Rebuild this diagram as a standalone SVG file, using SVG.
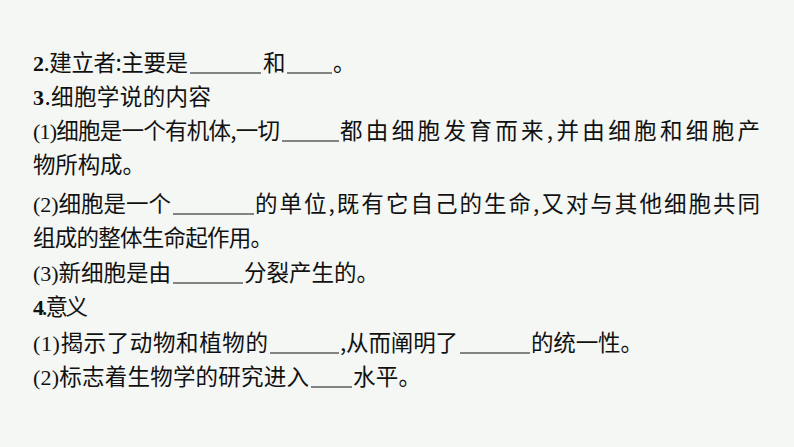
<svg xmlns="http://www.w3.org/2000/svg" width="794" height="447" viewBox="0 0 794 447">
<style>
text{font-family:"Noto Sans CJK SC","Liberation Serif",serif;font-size:22.5px;fill:#111}
.b{font-family:"Liberation Serif",serif;font-weight:bold;font-size:22px}
.n{font-family:"Liberation Serif",serif;font-size:22px}
line{stroke:#111;stroke-width:1.2}
</style>
<rect width="794" height="447" fill="#f4f7f4"/>
<g id="text">
<text x="33" y="71" textLength="155" lengthAdjust="spacing"><tspan class="b">2</tspan>.建立者:主要是</text>
<text x="263" y="71">和</text>
<text x="333" y="71">。</text>
<text x="33" y="105" textLength="178" lengthAdjust="spacing"><tspan class="b">3</tspan>.细胞学说的内容</text>
<text x="33" y="139" textLength="247" lengthAdjust="spacing"><tspan class="n">(1)</tspan>细胞是一个有机体,一切</text>
<text x="340" y="139" textLength="420" lengthAdjust="spacing">都由细胞发育而来,并由细胞和细胞产</text>
<text x="33" y="173" textLength="112" lengthAdjust="spacing">物所构成。</text>
<text x="33" y="212" textLength="138" lengthAdjust="spacing"><tspan class="n">(2)</tspan>细胞是一个</text>
<text x="255" y="212" textLength="505" lengthAdjust="spacing">的单位,既有它自己的生命,又对与其他细胞共同</text>
<text x="33" y="246" textLength="240" lengthAdjust="spacing">组成的整体生命起作用。</text>
<text x="33" y="281" textLength="138" lengthAdjust="spacing"><tspan class="n">(3)</tspan>新细胞是由</text>
<text x="244" y="281" textLength="135" lengthAdjust="spacing">分裂产生的。</text>
<text x="33" y="315" textLength="55" lengthAdjust="spacing"><tspan class="b">4</tspan>.意义</text>
<text x="33" y="351" textLength="235" lengthAdjust="spacing"><tspan class="n">(1)</tspan>揭示了动物和植物的</text>
<text x="340" y="351" textLength="118" lengthAdjust="spacing">,从而阐明了</text>
<text x="531" y="351" textLength="112" lengthAdjust="spacing">的统一性。</text>
<text x="33" y="385" textLength="276" lengthAdjust="spacing"><tspan class="n">(2)</tspan>标志着生物学的研究进入</text>
<text x="353" y="385" textLength="68" lengthAdjust="spacing">水平。</text>
</g>
<g id="blanks">
<line x1="190" y1="73" x2="261" y2="73"/>
<line x1="287" y1="73" x2="332" y2="73"/>
<line x1="282" y1="141" x2="339" y2="141"/>
<line x1="173" y1="214" x2="254" y2="214"/>
<line x1="173" y1="283" x2="243" y2="283"/>
<line x1="270" y1="353" x2="339" y2="353"/>
<line x1="460" y1="353" x2="530" y2="353"/>
<line x1="311" y1="387" x2="352" y2="387"/>
</g>
</svg>
